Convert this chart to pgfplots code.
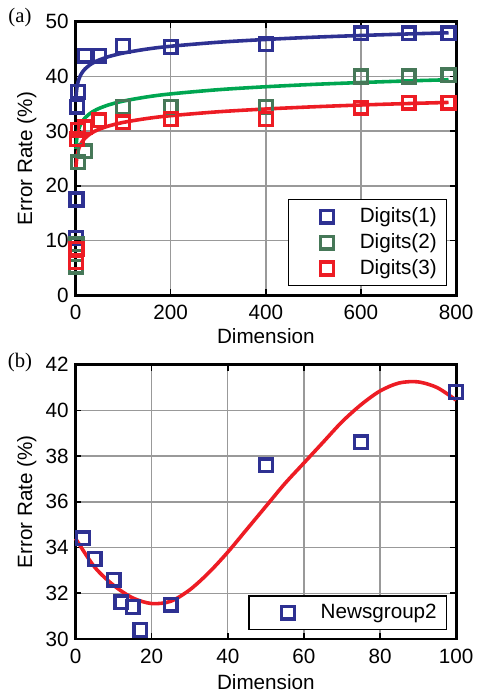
\documentclass[border=0pt]{standalone}
\usepackage{fontspec}
\setmainfont{Liberation Sans}
\newfontfamily\seriffont{Liberation Serif}
\usepackage{pgfplots}
\pgfplotsset{compat=1.18}
\definecolor{mblue}{RGB}{46,49,146}
\definecolor{mgreen}{RGB}{70,120,88}
\definecolor{cgreen}{RGB}{0,166,81}
\definecolor{mred}{RGB}{237,28,36}
\pgfplotsset{mystyle/.style={
  scale only axis, width=191.5pt,
  axis line style={line width=1.4pt},
  grid=major, major grid style={black!40, line width=0.7pt},
  tick align=inside, major tick length=3pt, tick style={black, line width=0.8pt},
  /pgf/number format/assume math mode=true,
  ticklabel style={font=\fontsize{10.4}{12}\selectfont},
  xticklabel style={yshift=-1.5pt},
  label style={font=\fontsize{10.4}{12}\selectfont},
  ylabel={Error Rate (\%)},
  xlabel={Dimension},
  ylabel style={at={(rel axis cs:-0.128,0.5)}, anchor=center},
  clip=false,
  legend style={anchor=south east, draw=black, line width=0.7pt, inner xsep=3pt, inner ysep=2pt,
    font=\fontsize{10.4}{12}\selectfont, cells={anchor=west}},
  legend image code/.code={\path[draw=none,fill=none] (0pt,-3pt) rectangle (31pt,3pt); \draw[#1] plot coordinates {(16.5pt,0pt)};},
  mk/.style={only marks, mark=square, mark size=3.2pt, line width=1.7pt},
  cv/.style={smooth, line width=1.8pt, mark=none, forget plot},
}}
\begin{document}
\begin{tikzpicture}
\path (-38pt,11pt) rectangle (201.5pt,-337pt);
\begin{axis}[mystyle, at={(0pt,0pt)}, anchor=north west, height=137.5pt,
  xmin=0, xmax=800, ymin=0, ymax=50,
  xtick={0,200,400,600,800}, ytick={0,10,20,30,40,50},
  xlabel style={at={(rel axis cs:0.5,-0.149)}, anchor=center},
  legend style={at={(0.977,0.033)}}]
\addplot[mk, color=mblue] coordinates {(1,10.5)(2,17.5)(3,34.5)(5,37.2)(20,43.8)(50,43.8)(100,45.6)(200,45.4)(400,45.9)(600,47.9)(700,47.9)(784,47.9)};
\addlegendentry{Digits(1)}
\addplot[mk, color=mgreen] coordinates {(1,5.2)(2,9.3)(5,24.3)(20,26.3)(100,34.4)(200,34.4)(400,34.4)(600,40)(700,40)(784,40.2)};
\addlegendentry{Digits(2)}
\addplot[mk, color=mred] coordinates {(1,6)(2,8.5)(3,28.5)(5,30.2)(20,30.7)(50,32)(100,31.6)(200,32.2)(400,32.2)(600,34.3)(700,35.2)(784,35.2)};
\addlegendentry{Digits(3)}
\addplot[cv, color=mblue] coordinates {(1,36.00)(1.5,36.73)(2,37.25)(3,37.98)(4,38.49)(5,38.90)(7,39.50)(10,40.15)(15,40.87)(20,41.39)(30,42.12)(40,42.64)(50,43.04)(70,43.65)(100,44.29)(150,45.02)(200,45.54)(300,46.27)(400,46.78)(500,47.19)(600,47.51)(700,47.79)(784,48.00)};
\addplot[cv, color=cgreen] coordinates {(1,26.75)(1.5,27.52)(2,28.07)(3,28.84)(4,29.38)(5,29.81)(7,30.45)(10,31.13)(15,31.90)(20,32.44)(30,33.21)(40,33.76)(50,34.18)(70,34.82)(100,35.50)(150,36.27)(200,36.82)(300,37.59)(400,38.13)(500,38.56)(600,38.90)(700,39.20)(784,39.41)};
\addplot[cv, color=mred] coordinates {(1,23.40)(1.5,24.12)(2,24.63)(3,25.36)(4,25.87)(5,26.26)(7,26.86)(10,27.50)(15,28.22)(20,28.73)(30,29.45)(40,29.97)(50,30.36)(70,30.96)(100,31.60)(150,32.32)(200,32.83)(300,33.55)(400,34.06)(500,34.46)(600,34.79)(700,35.06)(784,35.26)};
\node[font=\seriffont\fontsize{10.4}{12}\selectfont] at (rel axis cs:-0.146,1.015) {(a)};
\end{axis}
\begin{axis}[mystyle, at={(0pt,-172.5pt)}, anchor=north west, height=138pt,
  xmin=0, xmax=100, ymin=30, ymax=42,
  xtick={0,20,40,60,80,100}, ytick={30,32,34,36,38,40,42},
  xlabel style={at={(rel axis cs:0.5,-0.156)}, anchor=center},
  legend style={at={(0.977,0.033)}}]
\addplot[mk, color=mblue] coordinates {(2,34.4)(5,33.5)(10,32.6)(12,31.6)(15,31.4)(17,30.4)(25,31.5)(50,37.6)(75,38.6)(100,40.8)};
\addlegendentry{Newsgroup2}
\addplot[cv, color=mred] coordinates {(0,34.4)(5,33.15)(10,32.35)(15,31.8)(20,31.55)(25,31.65)(30,32.15)(35,32.9)(40,33.8)(45,34.8)(50,35.8)(55,36.8)(60,37.7)(65,38.6)(70,39.5)(75,40.25)(80,40.85)(85,41.2)(90,41.25)(95,41.0)(100,40.45)};
\node[font=\seriffont\fontsize{10.4}{12}\selectfont] at (rel axis cs:-0.146,1.007) {(b)};
\end{axis}
\end{tikzpicture}
\end{document}
